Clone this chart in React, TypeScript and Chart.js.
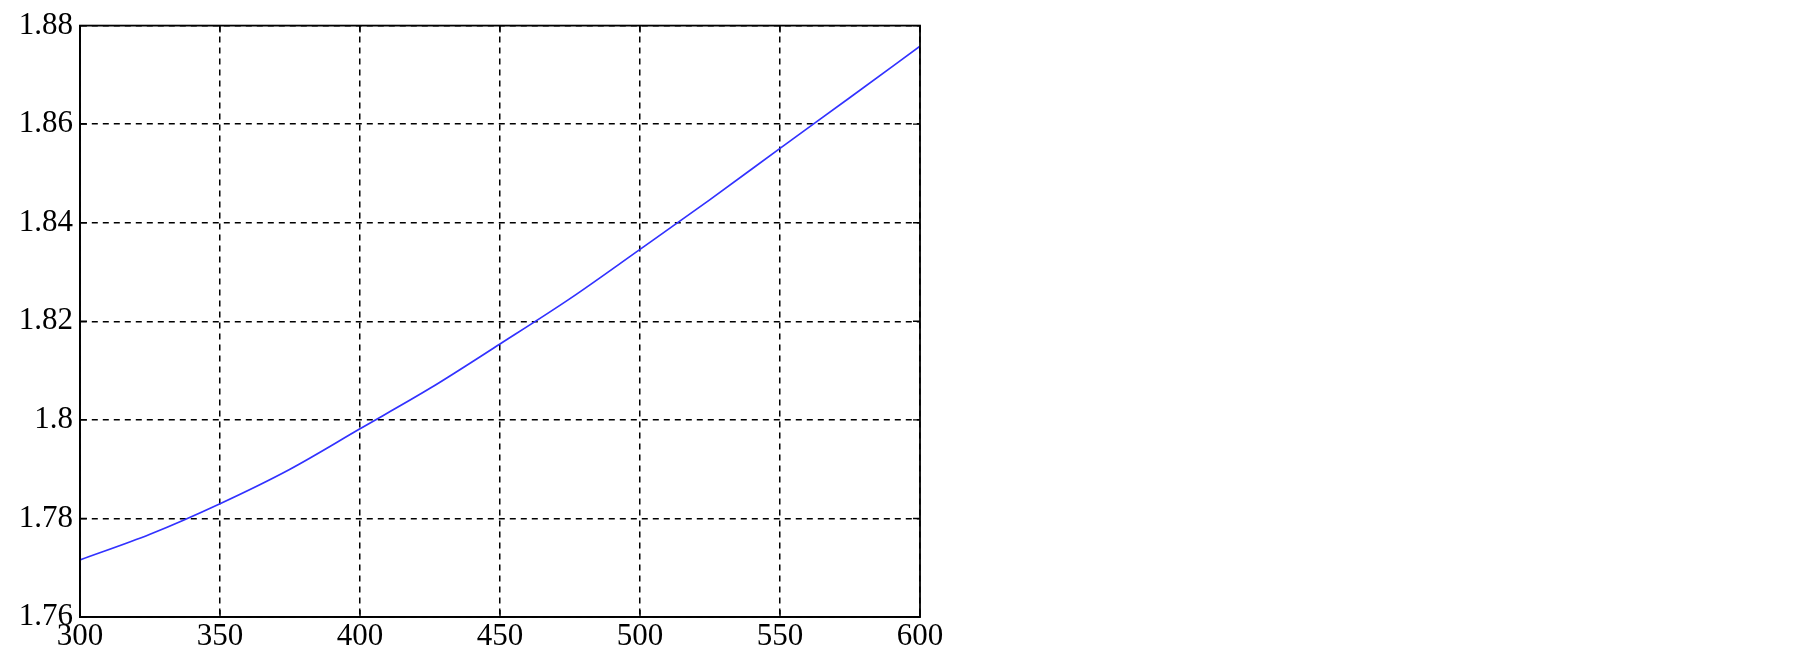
import React, { useEffect, useRef } from "react";
import { Chart, registerables } from "chart.js";

Chart.register(...registerables);

const xValues = [300, 325, 350, 375, 400, 425, 450, 475, 500, 525, 550, 575, 600];
const yValues = [1.7716, 1.7768, 1.783, 1.79, 1.7982, 1.8064, 1.8154, 1.8246, 1.8346, 1.8447, 1.8551, 1.8654, 1.8758];
const xTickValues = [300, 350, 400, 450, 500, 550, 600];
const yTickValues = [1.76, 1.78, 1.8, 1.82, 1.84, 1.86, 1.88];
const yTickLabels = ["1.76", "1.78", "1.8", "1.82", "1.84", "1.86", "1.88"];
const xTickLabels = ["300", "350", "400", "450", "500", "550", "600"];

const FONT = "'Liberation Serif', 'Times New Roman', serif";

const boxPlugin = {
  id: "boxPlugin",
  afterDraw(chart: any) {
    const { ctx, chartArea } = chart;
    const { left, right, top, bottom } = chartArea;
    const xs = chart.scales.x;
    const ys = chart.scales.y;
    ctx.save();
    ctx.strokeStyle = "#000";
    ctx.lineWidth = 1.4;
    ctx.setLineDash([]);
    const tl = 7;
    ctx.beginPath();
    xTickValues.forEach((v) => {
      const px = xs.getPixelForValue(v);
      ctx.moveTo(px, bottom);
      ctx.lineTo(px, bottom - tl);
      ctx.moveTo(px, top);
      ctx.lineTo(px, top + tl);
    });
    yTickValues.forEach((v) => {
      const py = ys.getPixelForValue(v);
      ctx.moveTo(left, py);
      ctx.lineTo(left + tl, py);
      ctx.moveTo(right, py);
      ctx.lineTo(right - tl, py);
    });
    ctx.stroke();
    ctx.lineWidth = 1.8;
    ctx.strokeRect(left, top, right - left, bottom - top);
    ctx.restore();
  },
};

export default function App() {
  const ref = useRef<HTMLCanvasElement | null>(null);
  useEffect(() => {
    document.body.style.margin = "0";
    const canvas = ref.current!;
    const chart = new Chart(canvas, {
      type: "line",
      data: {
        datasets: [
          {
            data: xValues.map((x, i) => ({ x, y: yValues[i] })),
            borderColor: "rgb(50,50,255)",
            borderWidth: 1.7,
            pointRadius: 0,
            fill: false,
            cubicInterpolationMode: "monotone",
          },
        ],
      },
      options: {
        animation: false,
        responsive: false,
        maintainAspectRatio: false,
        plugins: { legend: { display: false }, tooltip: { enabled: false } },
        layout: { padding: { top: 19, right: 885, left: 0, bottom: 0 } },
        scales: {
          x: {
            type: "linear",
            min: 300,
            max: 600,
            afterBuildTicks: (s: any) => {
              s.ticks = xTickValues.map((v) => ({ value: v }));
            },
            afterFit: (s: any) => {
              s.height = 46;
            },
            ticks: {
              font: { family: FONT, size: 31 },
              color: "#000",
              padding: 1,
              maxRotation: 0,
              autoSkip: false,
              callback: (v: any) => xTickLabels[xTickValues.indexOf(Number(v))] ?? String(v),
            },
            grid: { color: "#000", lineWidth: 1.5, drawTicks: false },
            border: { display: true, color: "#000", width: 1.8, dash: [6, 5] },
          },
          y: {
            type: "linear",
            min: 1.76,
            max: 1.88,
            afterBuildTicks: (s: any) => {
              s.ticks = yTickValues.map((v) => ({ value: v }));
            },
            afterFit: (s: any) => {
              s.width = 80;
            },
            ticks: {
              font: { family: FONT, size: 31 },
              color: "#000",
              padding: 7,
              autoSkip: false,
              callback: (v: any) => {
                const i = yTickValues.findIndex((t) => Math.abs(t - Number(v)) < 1e-6);
                return i >= 0 ? yTickLabels[i] : String(v);
              },
            },
            grid: { color: "#000", lineWidth: 1.5, drawTicks: false },
            border: { display: true, color: "#000", width: 1.8, dash: [6, 5] },
          },
        },
      },
      plugins: [boxPlugin],
    } as any);
    return () => chart.destroy();
  }, []);
  return <canvas ref={ref} width={1805} height={663} style={{ display: "block" }} />;
}
